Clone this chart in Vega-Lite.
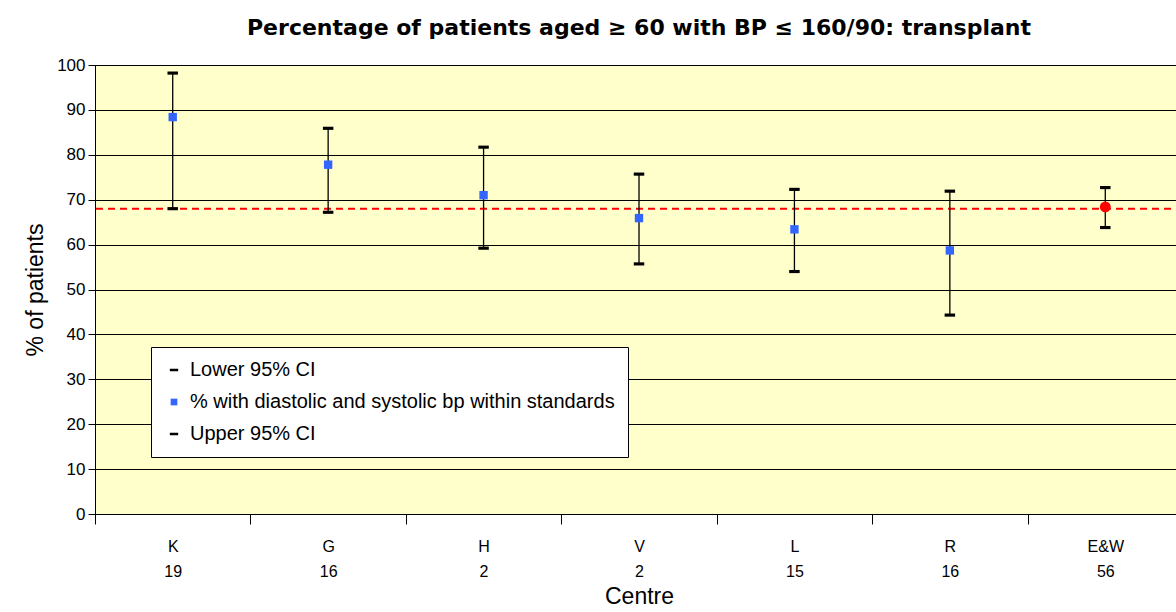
{
  "$schema": "https://vega.github.io/schema/vega-lite/v6.json",
  "autosize": "none",
  "width": 1088,
  "height": 449,
  "padding": {"left": 95, "top": 65, "right": 0, "bottom": 98},
  "background": "white",
  "title": {
    "text": "Percentage of patients aged ≥ 60 with BP ≤ 160/90: transplant",
    "font": "DejaVu Sans",
    "fontSize": 22,
    "fontWeight": "bold",
    "color": "black",
    "anchor": "middle",
    "offset": 16
  },
  "config": {
    "view": {"fill": "#FFFFCC", "stroke": "black", "strokeWidth": 1},
    "font": "Liberation Sans"
  },
  "data": {
    "values": [
      {"centre": "K", "n": 19, "label": "K|19", "lower": 68.0, "mean": 88.4, "upper": 98.2},
      {"centre": "G", "n": 16, "label": "G|16", "lower": 67.2, "mean": 77.8, "upper": 85.9},
      {"centre": "H", "n": 2, "label": "H|2", "lower": 59.2, "mean": 71.0, "upper": 81.7},
      {"centre": "V", "n": 2, "label": "V|2", "lower": 55.7, "mean": 65.9, "upper": 75.7},
      {"centre": "L", "n": 15, "label": "L|15", "lower": 54.0, "mean": 63.4, "upper": 72.3},
      {"centre": "R", "n": 16, "label": "R|16", "lower": 44.3, "mean": 58.7, "upper": 71.9},
      {"centre": "E&W", "n": 56, "label": "E&W|56", "lower": 63.8, "mean": 68.4, "upper": 72.7}
    ]
  },
  "encoding": {
    "x": {
      "field": "label",
      "type": "nominal",
      "sort": null,
      "scale": {"paddingInner": 0, "paddingOuter": 0},
      "axis": {
        "title": "Centre",
        "titleFont": "Liberation Sans",
        "titleFontSize": 23,
        "titleFontWeight": "normal",
        "titleColor": "black",
        "titlePadding": 6,
        "labelAngle": 0,
        "labelExpr": "datum.value ? split(datum.value, '|') : ''",
        "labelFont": "Liberation Sans",
        "labelFontSize": 16,
        "labelColor": "black",
        "labelLineHeight": 25,
        "labelPadding": 14,
        "tickBand": "extent",
        "tickSize": 10,
        "tickColor": "black",
        "domainColor": "black",
        "grid": false
      }
    }
  },
  "layer": [
    {
      "mark": {"type": "rule", "color": "red", "strokeWidth": 2, "strokeDash": [7, 5]},
      "data": {"values": [{"ref": 68.0}]},
      "encoding": {
        "x": null,
        "y": {
          "field": "ref",
          "type": "quantitative",
          "scale": {"domain": [0, 100], "nice": false},
          "axis": {
            "title": "% of patients",
            "titleFont": "Liberation Sans",
            "titleFontSize": 23,
            "titleFontWeight": "normal",
            "titleColor": "black",
            "titlePadding": 9,
            "values": [0, 10, 20, 30, 40, 50, 60, 70, 80, 90, 100],
            "labelFont": "Liberation Sans",
            "labelFontSize": 17,
            "labelColor": "black",
            "labelPadding": 3,
            "tickSize": 7,
            "tickColor": "black",
            "domainColor": "black",
            "grid": true,
            "gridColor": "black",
            "gridWidth": 1,
            "gridOpacity": 1
          }
        }
      }
    },
    {
      "mark": {"type": "rule", "color": "black", "strokeWidth": 1.3},
      "encoding": {
        "y": {"field": "lower", "type": "quantitative"},
        "y2": {"field": "upper"}
      }
    },
    {
      "transform": [
        {"fold": ["lower", "mean", "upper"], "as": ["key", "value"]},
        {"filter": "!(datum.centre == 'E&W' && datum.key == 'mean')"}
      ],
      "mark": {"type": "point", "filled": true, "opacity": 1, "size": 110, "strokeWidth": 0},
      "encoding": {
        "y": {"field": "value", "type": "quantitative"},
        "color": {
          "field": "key",
          "type": "nominal",
          "scale": {"domain": ["lower", "mean", "upper"], "range": ["black", "#3366FF", "black"]},
          "legend": {
            "title": null,
            "orient": "none",
            "legendX": 56,
            "legendY": 282,
            "direction": "vertical",
            "fillColor": "white",
            "strokeColor": "black",
            "padding": 13,
            "labelFont": "Liberation Sans",
            "labelFontSize": 20,
            "labelColor": "black",
            "labelLimit": 800,
            "rowPadding": 12,
            "symbolSize": 70,
            "labelOffset": 6,
            "labelExpr": "datum.value == 'lower' ? 'Lower 95% CI' : datum.value == 'mean' ? '% with diastolic and systolic bp within standards' : 'Upper 95% CI'"
          }
        },
        "shape": {
          "field": "key",
          "type": "nominal",
          "scale": {"domain": ["lower", "mean", "upper"], "range": ["M-1,-0.3H1V0.3H-1Z", "M-0.8,-0.8H0.8V0.8H-0.8Z", "M-1,-0.3H1V0.3H-1Z"]}
        }
      }
    },
    {
      "transform": [{"filter": "datum.centre == 'E&W'"}],
      "mark": {"type": "circle", "color": "#FF0000", "opacity": 1, "size": 120},
      "encoding": {
        "y": {"field": "mean", "type": "quantitative"}
      }
    }
  ]
}
